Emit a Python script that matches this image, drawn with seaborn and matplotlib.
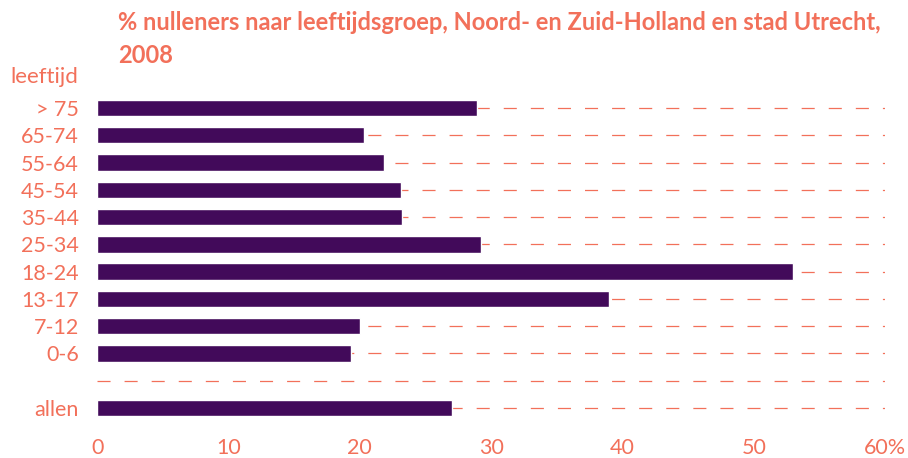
import numpy as np
import pandas as pd
import matplotlib
matplotlib.use('Agg')
import matplotlib.pyplot as plt
import seaborn as sns

groups = ['> 75', '65-74', '55-64', '45-54', '35-44', '25-34', '18-24', '13-17', '7-12', '0-6', 'allen']
pct = [28.9, 20.3, 21.8, 23.1, 23.2, 29.2, 53.0, 39.0, 20.0, 19.3, 27.0]
xticks = [0, 10, 20, 30, 40, 50, 60]
xlabels = ['0', '10', '20', '30', '40', '50', '60%']

title = '% nulleners naar leeftijdsgroep, Noord- en Zuid-Holland en stad Utrecht,\n2008'
coral = '#f2705a'
purple = '#420a5a'

sns.set_style('white')
plt.rcParams['font.family'] = ['Lato', 'DejaVu Sans']
plt.rcParams['lines.scale_dashes'] = False

df = pd.DataFrame({'groep': groups, 'pct': pct})
# empty slot between 0-6 and allen
order = groups[:-1] + [' '] + groups[-1:]

fig = plt.figure(figsize=(9.08, 4.58), dpi=100)
ax = fig.add_axes([0.107, 0.0795, 0.868, 0.7145])

# dashed guide lines behind the bars
ax.hlines(np.arange(len(order)), 0, 60, colors=coral, linewidth=0.9,
          linestyles=[(0, (9.4, 10.1))], zorder=0)

sns.barplot(data=df, x='pct', y='groep', order=order, color=purple,
            saturation=1, width=0.6, ax=ax, zorder=2)

ax.set_xlim(0, 60)
ax.set_ylim(len(order) - 0.5, -0.5)
ax.set_xticks(xticks)
ax.set_xticklabels(xlabels)
ax.set_xlabel('')
ax.set_ylabel('')
sns.despine(ax=ax, left=True, bottom=True)
ax.tick_params(axis='both', length=0, labelsize=15.5, labelcolor=coral)
ax.tick_params(axis='y', pad=13)
ax.tick_params(axis='x', pad=12)

fig.text(0.13, 0.977, title, color=coral, fontsize=17, fontweight='bold',
         ha='left', va='top', linespacing=1.55)
fig.text(0.011, 0.832, 'leeftijd', color=coral, fontsize=16, ha='left', va='center')

fig.savefig('out.png', dpi=100)
